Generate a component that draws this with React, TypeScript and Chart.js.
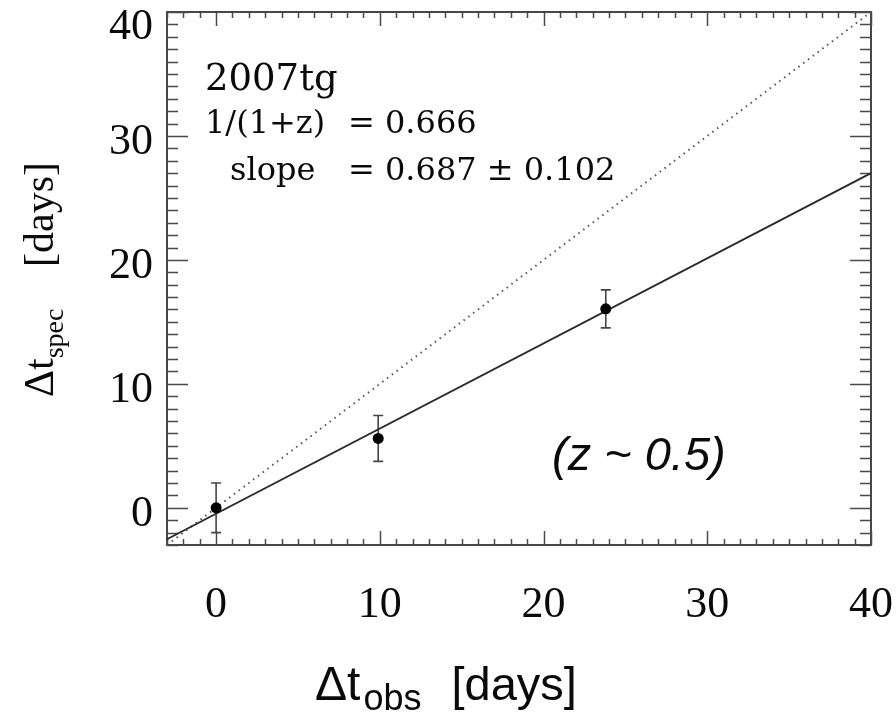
import { useEffect, useRef } from "react";
import { Chart, registerables } from "chart.js";

Chart.register(...registerables);

// Measured epochs: observer-frame days vs spectral-age days
const OBS_DAYS = [0, 9.9, 23.8];
const SPEC_DAYS = [0, 5.6, 16.05];
const SPEC_ERR = [2.0, 1.85, 1.53];

// Axis range and labelled ticks
const AXIS_MIN = -3;
const AXIS_MAX = 40;
const X_TICKS = [0, 10, 20, 30, 40];
const Y_TICKS = [0, 10, 20, 30, 40];

// Linear fit and time-dilation reference line
const FIT_SLOPE = 0.687;
const FIT_SLOPE_ERR = 0.102;
const FIT_INTERCEPT = -0.48;
const INV_ONE_PLUS_Z = 0.666;
const LINE_X = [AXIS_MIN, AXIS_MAX];

const SN_NAME = "2007tg";
const Z_NOTE = "(z ~ 0.5)";

const W = 896;
const H = 712;
const FRAME = { left: 167, top: 12, right: 871, bottom: 545 };

const SERIF = "'Liberation Serif', 'Times New Roman', serif";
const TEXT_SERIF = "'DejaVu Serif', serif";
const SANS = "'Liberation Sans', Arial, sans-serif";

const framePlugin = {
  id: "frameTicksText",
  beforeDatasetsDraw(chart: any) {
    const { ctx, chartArea: a, scales } = chart;
    const xs = scales.x;
    const ys = scales.y;
    ctx.save();

    // frame
    ctx.strokeStyle = "#333";
    ctx.lineWidth = 1.8;
    ctx.strokeRect(a.left, a.top, a.right - a.left, a.bottom - a.top);

    // inward minor/major ticks on all four sides
    ctx.strokeStyle = "#4a4a4a";
    ctx.lineWidth = 1.5;
    ctx.beginPath();
    for (let v = Math.ceil(AXIS_MIN); v <= AXIS_MAX; v++) {
      const major = v % 10 === 0;
      const px = Math.round(xs.getPixelForValue(v)) + 0.5;
      const lx = major ? 14 : 6;
      ctx.moveTo(px, a.bottom);
      ctx.lineTo(px, a.bottom - lx);
      ctx.moveTo(px, a.top);
      ctx.lineTo(px, a.top + lx);
      const py = Math.round(ys.getPixelForValue(v)) + 0.5;
      const ly = major ? 21 : 11;
      ctx.moveTo(a.left, py);
      ctx.lineTo(a.left + ly, py);
      ctx.moveTo(a.right, py);
      ctx.lineTo(a.right - ly, py);
    }
    ctx.stroke();

    // error bars
    ctx.strokeStyle = "#444";
    ctx.lineWidth = 1.6;
    ctx.beginPath();
    OBS_DAYS.forEach((x, i) => {
      const px = xs.getPixelForValue(x);
      const top = ys.getPixelForValue(SPEC_DAYS[i] + SPEC_ERR[i]);
      const bot = ys.getPixelForValue(SPEC_DAYS[i] - SPEC_ERR[i]);
      ctx.moveTo(px, top);
      ctx.lineTo(px, bot);
      ctx.moveTo(px - 5, top);
      ctx.lineTo(px + 5, top);
      ctx.moveTo(px - 5, bot);
      ctx.lineTo(px + 5, bot);
    });
    ctx.stroke();

    // tick labels
    ctx.fillStyle = "#0a0a0a";
    ctx.font = `44px ${SERIF}`;
    ctx.textAlign = "center";
    ctx.textBaseline = "alphabetic";
    X_TICKS.forEach((v) => {
      ctx.fillText(String(v), xs.getPixelForValue(v), 617);
    });
    ctx.textAlign = "right";
    Y_TICKS.forEach((v) => {
      const base = Math.max(ys.getPixelForValue(v) + 18, 39);
      ctx.fillText(String(v), 153, base);
    });

    // annotation block
    ctx.textAlign = "left";
    ctx.font = `37px ${TEXT_SERIF}`;
    ctx.fillText(SN_NAME, 205, 90);
    ctx.font = `32px ${TEXT_SERIF}`;
    ctx.fillText("1/(1+z)", 205, 133);
    ctx.fillText(`= ${INV_ONE_PLUS_Z.toFixed(3)}`, 348, 133);
    ctx.fillText("slope", 230, 180);
    ctx.fillText(`= ${FIT_SLOPE.toFixed(3)} \u00b1 ${FIT_SLOPE_ERR.toFixed(3)}`, 348, 180);

    ctx.font = `italic 47px ${SANS}`;
    ctx.fillText(Z_NOTE, 552, 470);

    // x-axis title
    let x = 315;
    ctx.font = `48px ${SANS}`;
    ctx.fillText("\u0394t", x, 700);
    x += ctx.measureText("\u0394t").width + 3;
    ctx.font = `36px ${SANS}`;
    ctx.fillText("obs", x, 710);
    x += ctx.measureText("obs").width + 30;
    ctx.font = `47px ${SANS}`;
    ctx.fillText("[days]", x, 700);

    // y-axis title, rotated
    ctx.translate(53, 397);
    ctx.rotate(-Math.PI / 2);
    ctx.font = `42px ${SERIF}`;
    let t = 0;
    ctx.fillText("\u0394t", t, 0);
    t += ctx.measureText("\u0394t").width;
    ctx.font = `28px ${SERIF}`;
    ctx.fillText("spec", t, 10);
    ctx.font = `42px ${SERIF}`;
    ctx.fillText("[days]", 130, 0);

    ctx.restore();
  },
};

export default function App() {
  const ref = useRef<HTMLCanvasElement | null>(null);

  useEffect(() => {
    if (!ref.current) return;
    const points = OBS_DAYS.map((x, i) => ({ x, y: SPEC_DAYS[i] }));
    const fit = LINE_X.map((x) => ({ x, y: FIT_SLOPE * x + FIT_INTERCEPT }));
    const oneToOne = LINE_X.map((x) => ({ x, y: x }));

    const chart = new Chart(ref.current, {
      type: "scatter",
      data: {
        datasets: [
          {
            label: "epochs",
            data: points,
            pointRadius: 5.5,
            pointBackgroundColor: "#000",
            pointBorderColor: "#000",
            pointBorderWidth: 0,
            showLine: false,
          },
          {
            label: "fit",
            data: fit,
            showLine: true,
            pointRadius: 0,
            borderColor: "#2a2a2a",
            borderWidth: 1.8,
          },
          {
            label: "1:1",
            data: oneToOne,
            showLine: true,
            pointRadius: 0,
            borderColor: "#555",
            borderWidth: 2,
            borderDash: [1.5, 4.5],
          },
        ],
      },
      options: {
        animation: false,
        responsive: false,
        devicePixelRatio: 1,
        layout: {
          padding: {
            left: FRAME.left,
            top: FRAME.top,
            right: W - FRAME.right,
            bottom: H - FRAME.bottom,
          },
        },
        plugins: { legend: { display: false }, tooltip: { enabled: false } },
        scales: {
          x: { type: "linear", min: AXIS_MIN, max: AXIS_MAX, display: false },
          y: { type: "linear", min: AXIS_MIN, max: AXIS_MAX, display: false },
        },
      },
      plugins: [framePlugin],
    });
    return () => chart.destroy();
  }, []);

  return (
    <div style={{ position: "fixed", left: 0, top: 0, width: W, height: H, background: "#fff" }}>
      <canvas ref={ref} width={W} height={H} style={{ width: W, height: H, display: "block" }} />
    </div>
  );
}
